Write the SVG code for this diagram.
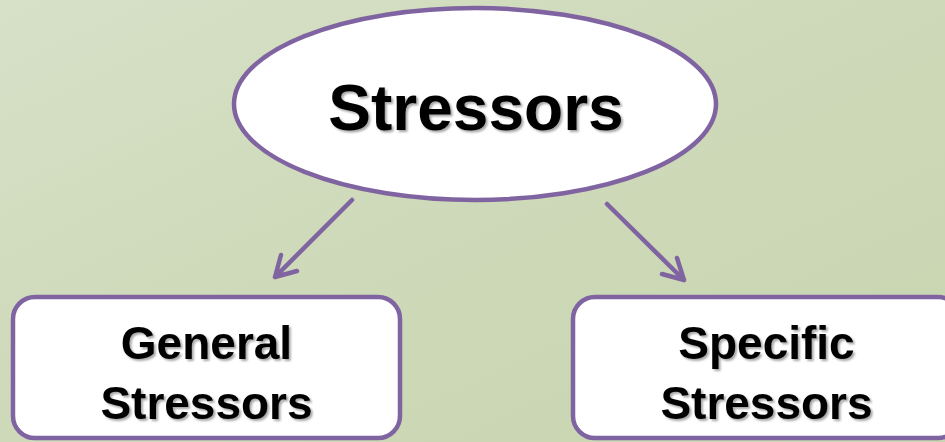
<svg xmlns="http://www.w3.org/2000/svg" width="945" height="442" viewBox="0 0 945 442">
<defs>
<linearGradient id="bg" x1="0" y1="0" x2="1" y2="1">
<stop offset="0" stop-color="#d7e1c8"/>
<stop offset="0.5" stop-color="#cdd9b8"/>
<stop offset="1" stop-color="#c8d5b0"/>
</linearGradient>
<filter id="shadow" x="-10%" y="-20%" width="120%" height="140%">
<feDropShadow dx="2" dy="2" stdDeviation="0.8" flood-color="#000" flood-opacity="0.35"/>
</filter>
<style>
.node{fill:#ffffff;stroke:#8064a2;stroke-width:4.5}
.conn{fill:none;stroke:#8064a2;stroke-width:4.5;stroke-linecap:round;stroke-linejoin:round}
.t{font-family:"Liberation Sans",Arial,sans-serif;font-weight:bold;text-anchor:middle;fill:#000;filter:url(#shadow)}
</style>
</defs>
<rect width="945" height="442" fill="url(#bg)"/>
<g id="connectors">
<path class="conn" d="M352,200 L275,277 M281,255 L275,277 L297,271"/>
<path class="conn" d="M607,204 L684,280 M677,258 L684,280 L662,274"/>
</g>
<g id="node-stressors">
<ellipse class="node" cx="475" cy="104" rx="241" ry="96"/>
<text class="t" x="476" y="130" font-size="64">Stressors</text>
</g>
<g id="node-general">
<rect class="node" x="13" y="297" width="387" height="141" rx="22"/>
<text class="t" font-size="46"><tspan x="206.5" y="359">General</tspan><tspan x="206.5" y="419">Stressors</tspan></text>
</g>
<g id="node-specific">
<rect class="node" x="573" y="297" width="387" height="141" rx="22"/>
<text class="t" font-size="46"><tspan x="766.5" y="359">Specific</tspan><tspan x="766.5" y="419">Stressors</tspan></text>
</g>
</svg>
